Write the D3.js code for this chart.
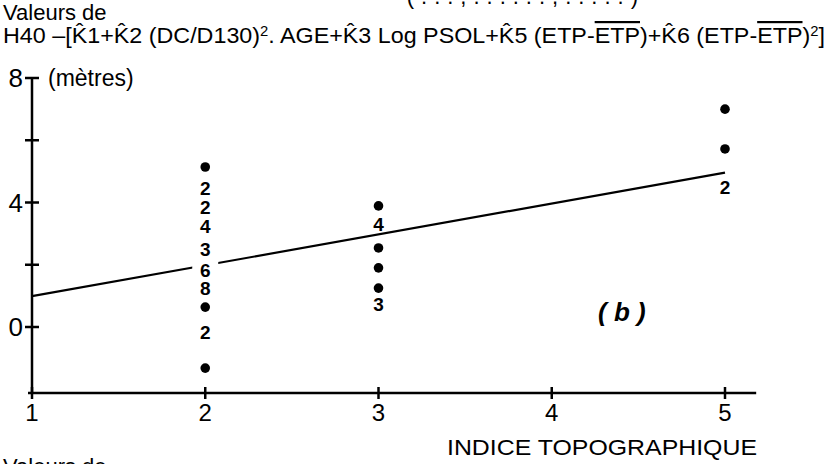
<!DOCTYPE html>
<html>
<head>
<meta charset="utf-8">
<script src="https://cdn.jsdelivr.net/npm/d3@7"></script>
<style>
  body { margin: 0; background: #fff; }
  text { font-family: "Liberation Sans", Arial, sans-serif; fill: #000; }
</style>
</head>
<body>
<svg id="chart" width="829" height="464"></svg>
<script>
// Data: each point is an x class, a value, and a count label (null = single dot)
var xValues = [2, 2, 2, 2, 2, 2, 2, 2, 2, 2, 3, 3, 3, 3, 3, 3, 5, 5, 5];
var yValues = [5.14, 4.44, 3.83, 3.22, 2.48, 1.83, 1.25, 0.64, -0.19, -1.32,
               3.89, 3.28, 2.54, 1.90, 1.25, 0.71, 7.0, 5.72, 4.47];
var counts  = [null, 2, 2, 4, 3, 6, 8, null, 2, null,
               null, 4, null, null, null, 3, null, null, 2];

// Fitted line endpoints
var lineX = [1, 5];
var lineY = [0.99, 4.96];

var xTicks = [1, 2, 3, 4, 5];
var yTicks = [0, 2, 4, 6, 8];
var yTickLabels = ["0", "", "4", "", "8"];

var svg = d3.select("svg#chart");

var x = d3.scaleLinear().domain([1, 5]).range([32, 725]);
var y = d3.scaleLinear().domain([0, 8]).range([327, 78]);
var xEnd = 5.18;
var yBottom = -2.12;

// Titles
svg.append("text")
  .attr("x", 3).attr("y", 20)
  .attr("font-size", 22)
  .text("Valeurs de");

var t = svg.append("text")
  .attr("x", 3).attr("y", 43)
  .attr("font-size", 22)
  .attr("textLength", 822)
  .attr("lengthAdjust", "spacingAndGlyphs");
t.append("tspan").text("H40 \u2013[K\u03021+K\u03022 (DC/D130)");
t.append("tspan").attr("font-size", 14).attr("dy", -7).text("2");
t.append("tspan").attr("dy", 7).text(". AGE+K\u03023 Log PSOL+K\u03025 (ETP-");
t.append("tspan").attr("text-decoration", "overline").text("ETP");
t.append("tspan").text(")+K\u03026 (ETP-");
t.append("tspan").attr("text-decoration", "overline").text("ETP");
t.append("tspan").text(")");
t.append("tspan").attr("font-size", 14).attr("dy", -7).text("2");
t.append("tspan").attr("dy", 7).text("]");

// clipped line above, only its bottom shows
svg.append("text")
  .attr("x", 392).attr("y", 4)
  .attr("font-size", 22)
  .attr("textLength", 246)
  .attr("lengthAdjust", "spacing")
  .text("\u1D9C(...,......,.....)");

// clipped line below
svg.append("text")
  .attr("x", 3).attr("y", 474)
  .attr("font-size", 22)
  .text("Valeurs de");

// Axes
svg.append("line")
  .attr("x1", x(1)).attr("y1", y(8))
  .attr("x2", x(1)).attr("y2", y(yBottom))
  .attr("stroke", "#000").attr("stroke-width", 2.5);

svg.append("line")
  .attr("x1", x(1) - 4).attr("y1", y(yBottom))
  .attr("x2", x(xEnd)).attr("y2", y(yBottom))
  .attr("stroke", "#000").attr("stroke-width", 2.5);

svg.selectAll("line.ytick")
  .data(yTicks)
  .enter().append("line")
  .attr("class", "ytick")
  .attr("x1", x(1) - 7).attr("x2", x(1) + 7)
  .attr("y1", d => y(d)).attr("y2", d => y(d))
  .attr("stroke", "#000").attr("stroke-width", 2.5);

svg.selectAll("text.ylab")
  .data(yTicks)
  .enter().append("text")
  .attr("class", "ylab")
  .attr("x", x(1) - 9)
  .attr("y", d => y(d))
  .attr("text-anchor", "end")
  .attr("dominant-baseline", "central")
  .attr("font-size", 26)
  .text((d, i) => yTickLabels[i]);

svg.append("text")
  .attr("x", x(1) + 16).attr("y", y(8))
  .attr("dominant-baseline", "central")
  .attr("font-size", 23)
  .text("(mètres)");

svg.selectAll("line.xtick")
  .data(xTicks)
  .enter().append("line")
  .attr("class", "xtick")
  .attr("x1", d => x(d)).attr("x2", d => x(d))
  .attr("y1", y(yBottom) - 6).attr("y2", y(yBottom) + 6)
  .attr("stroke", "#000").attr("stroke-width", 2.5);

svg.selectAll("text.xlab")
  .data(xTicks)
  .enter().append("text")
  .attr("class", "xlab")
  .attr("x", d => x(d))
  .attr("y", y(yBottom) + 20)
  .attr("text-anchor", "middle")
  .attr("dominant-baseline", "central")
  .attr("font-size", 24)
  .text(d => d);

svg.append("text")
  .attr("x", 757).attr("y", 447)
  .attr("text-anchor", "end")
  .attr("dominant-baseline", "central")
  .attr("font-size", 22)
  .attr("textLength", 310)
  .attr("lengthAdjust", "spacingAndGlyphs")
  .text("INDICE TOPOGRAPHIQUE");

// Regression line
svg.append("line")
  .attr("x1", x(lineX[0])).attr("y1", y(lineY[0]))
  .attr("x2", x(lineX[1])).attr("y2", y(lineY[1]))
  .attr("stroke", "#000").attr("stroke-width", 2.2);

// Points and count labels
var pts = xValues.map((d, i) => ({x: d, y: yValues[i], n: counts[i]}));

// white patch where the line passes behind the label column
svg.append("rect")
  .attr("x", x(2) - 13).attr("y", y(1.83) - 9)
  .attr("width", 26).attr("height", 18)
  .attr("fill", "#fff");

svg.selectAll("circle.pt")
  .data(pts.filter(d => d.n === null))
  .enter().append("circle")
  .attr("class", "pt")
  .attr("cx", d => x(d.x))
  .attr("cy", d => y(d.y))
  .attr("r", 4.8)
  .attr("fill", "#000");

svg.selectAll("text.cnt")
  .data(pts.filter(d => d.n !== null))
  .enter().append("text")
  .attr("class", "cnt")
  .attr("x", d => x(d.x))
  .attr("y", d => y(d.y))
  .attr("text-anchor", "middle")
  .attr("dominant-baseline", "central")
  .attr("font-size", 19)
  .attr("font-weight", "bold")
  .text(d => d.n);

// Panel label
svg.append("text")
  .attr("x", 598).attr("y", 321)
  .attr("font-size", 26)
  .attr("font-style", "italic")
  .attr("font-weight", "bold")
  .attr("xml:space", "preserve")
  .text("( b )");
</script>
</body>
</html>
